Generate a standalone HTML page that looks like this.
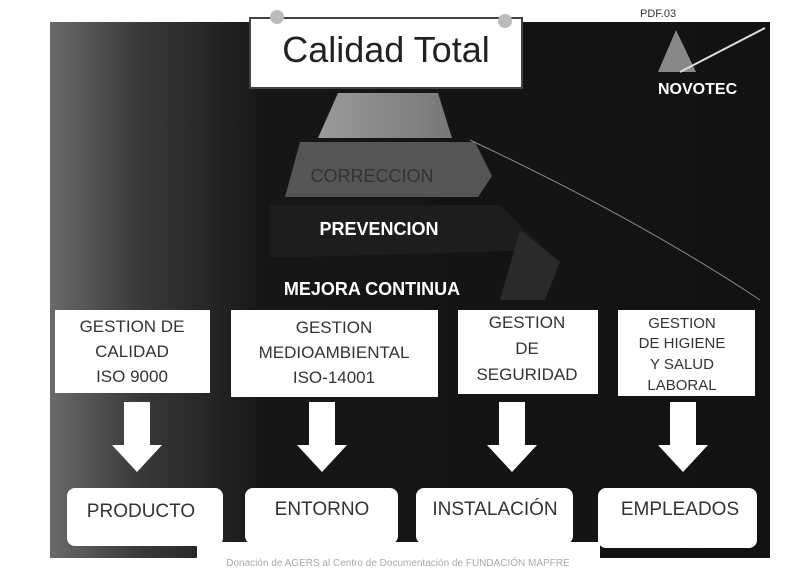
<!DOCTYPE html>
<html><head><meta charset="utf-8"><style>
body{margin:0;background:#fff;width:795px;height:583px;overflow:hidden;font-family:"Liberation Sans",sans-serif}
</style></head><body>
<svg width="795" height="583" xmlns="http://www.w3.org/2000/svg" font-family="Liberation Sans, sans-serif">
<defs>
<linearGradient id="lg" x1="0" x2="1" y1="0" y2="0">
<stop offset="0" stop-color="#6a6a6a"/><stop offset="0.12" stop-color="#3a3a3a"/><stop offset="0.3" stop-color="#161616"/><stop offset="1" stop-color="#121212"/>
</linearGradient>
<linearGradient id="p1" x1="0" x2="1"><stop offset="0" stop-color="#9a9a9a"/><stop offset="1" stop-color="#777"/></linearGradient>
</defs>
<rect x="50" y="22" width="720" height="536" fill="url(#lg)"/>
<rect x="197" y="542" width="403" height="41" fill="#fff"/>
<!-- title -->
<rect x="250" y="18" width="272" height="70" fill="#fff" stroke="#444" stroke-width="2"/>
<text x="386" y="62" font-size="36" text-anchor="middle" fill="#222">Calidad Total</text>
<circle cx="277" cy="17" r="7" fill="#bbb"/><circle cx="505" cy="21" r="7" fill="#bbb"/>
<text x="640" y="17" font-size="11" fill="#333">PDF.03</text>
<!-- logo -->
<polygon points="658,72 676,30 696,72" fill="#888"/>
<line x1="680" y1="72" x2="765" y2="28" stroke="#ddd" stroke-width="2"/>
<text x="658" y="94" font-size="16" font-weight="bold" fill="#fff">NOVOTEC</text>
<!-- pyramid -->
<polygon points="338,93 438,93 452,138 318,138" fill="url(#p1)"/>
<polygon points="300,142 475,142 492,176 478,197 285,197" fill="#555"/>
<text x="372" y="182" font-size="18" text-anchor="middle" fill="#333">CORRECCION</text>
<polygon points="270,205 500,205 545,250 270,258" fill="#1d1d1d"/>
<text x="379" y="235" font-size="18" font-weight="bold" text-anchor="middle" fill="#fff">PREVENCION</text>
<polygon points="520,230 560,262 545,300 500,300" fill="#2a2a2a"/>
<path d="M470,140 Q640,220 760,300" stroke="#888" fill="none" stroke-width="1"/>
<text x="372" y="295" font-size="18" font-weight="bold" text-anchor="middle" fill="#fff">MEJORA CONTINUA</text>
<!-- boxes -->
<g fill="#fff">
<rect x="55" y="310" width="155" height="83"/>
<rect x="231" y="310" width="207" height="87"/>
<rect x="458" y="310" width="140" height="84"/>
<rect x="618" y="310" width="137" height="86"/>
</g>
<g font-size="17" fill="#333" text-anchor="middle">
<text x="132" y="332">GESTION DE</text><text x="132" y="357">CALIDAD</text><text x="132" y="382">ISO 9000</text>
<text x="334" y="333">GESTION</text><text x="334" y="358">MEDIOAMBIENTAL</text><text x="334" y="383">ISO-14001</text>
<text x="527" y="328">GESTION</text><text x="527" y="354">DE</text><text x="527" y="380">SEGURIDAD</text>
</g>
<g font-size="15" fill="#333" text-anchor="middle">
<text x="682" y="328">GESTION</text><text x="682" y="348">DE HIGIENE</text><text x="682" y="369">Y SALUD</text><text x="682" y="390">LABORAL</text>
</g>
<!-- arrows -->
<g fill="#fff">
<polygon points="124,402 150,402 150,445 162,445 137,472 112,445 124,445"/>
<polygon points="309,402 335,402 335,445 347,445 322,472 297,445 309,445"/>
<polygon points="499,402 525,402 525,445 537,445 512,472 487,445 499,445"/>
<polygon points="670,402 696,402 696,445 708,445 683,472 658,445 670,445"/>
</g>
<g fill="#fff">
<rect x="67" y="488" width="156" height="58" rx="8"/>
<rect x="245" y="488" width="153" height="56" rx="8"/>
<rect x="416" y="488" width="157" height="56" rx="8"/>
<rect x="598" y="488" width="159" height="60" rx="8"/>
</g>
<g font-size="19" fill="#333" text-anchor="middle">
<text x="141" y="517">PRODUCTO</text>
<text x="322" y="515">ENTORNO</text>
<text x="495" y="515">INSTALACIÓN</text>
<text x="680" y="515">EMPLEADOS</text>
</g>
<text x="398" y="566" font-size="10" fill="#aaa" text-anchor="middle">Donación de AGERS al Centro de Documentación de FUNDACIÓN MAPFRE</text>
</svg>
</body></html>
